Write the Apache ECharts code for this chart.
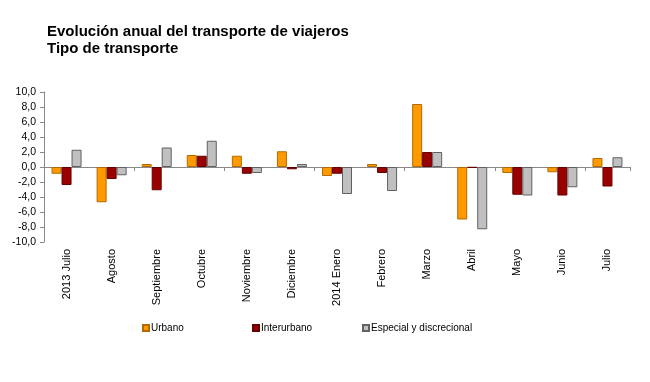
<!DOCTYPE html>
<html>
<head>
<meta charset="utf-8">
<script src="https://cdn.jsdelivr.net/npm/echarts@6/dist/echarts.min.js"></script>
<style>html,body{margin:0;padding:0;background:#fff;}#c{width:650px;height:382px;}</style>
</head>
<body>
<div id="c"></div>
<script>
var categories = ['2013 Julio','Agosto','Septiembre','Octubre','Noviembre','Diciembre','2014 Enero','Febrero','Marzo','Abril','Mayo','Junio','Julio'];
var urbano = [-0.9,-4.7,0.4,1.6,1.5,2.1,-1.2,0.4,8.4,-7.0,-0.8,-0.7,1.2];
var interurbano = [-2.4,-1.6,-3.1,1.5,-0.9,-0.3,-0.9,-0.8,2.0,-0.1,-3.7,-3.8,-2.6];
var especial = [2.3,-1.1,2.6,3.5,-0.8,0.4,-3.6,-3.2,2.0,-8.3,-3.8,-2.7,1.3];
var seriesNames = ['Urbano','Interurbano','Especial y discrecional'];
var titleLines = ['Evolución anual del transporte de viajeros','Tipo de transporte'];

var FONT = '"Liberation Sans", Arial, sans-serif';
var chart = echarts.init(document.getElementById('c'), null, {renderer:'canvas'});
var colors = ['#FF9900','#990000','#C0C0C0'];
var borders = ['#B36B00','#660000','#606060'];
var dataSets = [urbano, interurbano, especial];
var legendLefts = [137, 247, 357];

function mkLegend(i){
  return {
    data:[seriesNames[i]], left:legendLefts[i], top:318, itemWidth:6, itemHeight:6,
    icon:'rect', itemGap:2,
    textStyle:{fontFamily:FONT,fontSize:10,color:'#000',padding:[0,0,0,-3]}
  };
}

chart.setOption({
  animation:false,
  title:{text:titleLines.join('\n'),left:42,top:18,
    textStyle:{fontFamily:FONT,fontSize:15,fontWeight:'bold',color:'#000',lineHeight:17}},
  legend:[mkLegend(0),mkLegend(1),mkLegend(2)],
  grid:{left:44,right:20,top:92,bottom:140,containLabel:false},
  xAxis:[{
    type:'category',data:categories,
    axisLine:{onZero:true,lineStyle:{color:'#888',width:1}},
    axisTick:{show:true,length:4,lineStyle:{color:'#888'}},
    axisLabel:{show:false}
  },{
    type:'category',data:categories,position:'bottom',
    axisLine:{show:false,onZero:false},axisTick:{show:false},
    axisLabel:{rotate:90,fontFamily:FONT,fontSize:11,color:'#000',margin:7,interval:0}
  }],
  yAxis:{
    type:'value',min:-10,max:10,interval:2,
    axisLine:{show:true,lineStyle:{color:'#888'}},
    axisTick:{show:true,length:4,lineStyle:{color:'#888'}},
    splitLine:{show:false},
    axisLabel:{fontFamily:FONT,fontSize:10.5,color:'#000',margin:8,
      formatter:function(v){return v.toFixed(1).replace('.',',');}}
  },
  series:dataSets.map(function(d,i){
    return {name:seriesNames[i],type:'bar',data:d,xAxisIndex:0,barWidth:10,barGap:'0%',
      itemStyle:{color:colors[i],borderColor:borders[i],borderWidth:1}};
  })
});
</script>
</body>
</html>
